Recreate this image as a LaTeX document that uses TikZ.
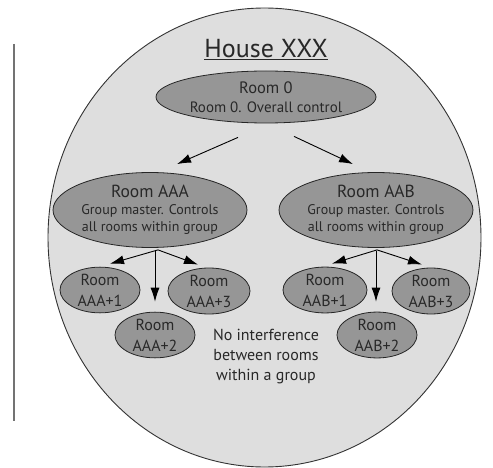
\documentclass[tikz,border=0pt]{standalone}
\usepackage{fontspec}
\setmainfont{PT Sans}
\usepackage{tikz}
\usetikzlibrary{positioning,shapes,arrows.meta,calc}
\definecolor{housegray}{RGB}{222,222,222}
\definecolor{roomgray}{RGB}{150,150,150}
\definecolor{textgray}{RGB}{40,40,40}

\begin{document}
\begin{tikzpicture}[x=1pt,y=-1pt,
    room/.style={ellipse,draw=black!85,line width=0.8pt,fill=roomgray,inner sep=0pt,align=center,text=textgray},
    bigroom/.style={room,minimum height=75pt,font=\fontsize{14}{16.5}\selectfont},
    smallroom/.style={room,minimum width=80pt,minimum height=40pt,font=\fontsize{16}{21}\selectfont},
    link/.style={-{Latex[length=14pt,width=9pt]},line width=0.9pt}]
  \useasboundingbox (0,0) rectangle (493,468);
  % side rule and house outline
  \draw[line width=2pt,black!55] (14,44) -- (14,421);
  \draw[fill=housegray,draw=black!80,line width=0.9pt] (264.5,237.5) ellipse [x radius=216.5pt, y radius=229.5pt];
  \node[text=textgray,font=\fontsize{26}{30}\selectfont] (title) at (266,50) {\underline{House XXX}};
  % top controller
  \node[room,minimum width=220pt,minimum height=52pt,font=\fontsize{15}{19}\selectfont] (r0) at (266,97)
      {{\fontsize{16.5}{19}\selectfont Room 0}\\Room 0. Overall control};
  % group masters
  \node[bigroom,minimum width=154pt] (aaa) at (150,210) {{\fontsize{17.5}{19}\selectfont Room AAA}\\[0.5pt]
      Group master. Controls\\all rooms within group};
  \node[bigroom,minimum width=163pt] (aab) at (376,210) {{\fontsize{17.5}{19}\selectfont Room AAB}\\[0.5pt]
      Group master. Controls\\all rooms within group};
  % group members
  \node[smallroom] (a1) at (100,290) {Room\\AAA+1};
  \node[smallroom,minimum width=82pt,minimum height=42pt] (a3) at (209,291) {Room\\AAA+3};
  \node[smallroom] (a2) at (155,335) {Room\\AAA+2};
  \node[smallroom,minimum width=84pt] (b1) at (325,290) {Room\\AAB+1};
  \node[smallroom,minimum width=78pt,minimum height=42pt] (b3) at (431,291) {Room\\AAB+3};
  \node[smallroom] (b2) at (377,335) {Room\\AAB+2};
  \node[text=textgray,align=center,font=\fontsize{16}{20}\selectfont] (note) at (266,357) {No interference\\between rooms\\within a group};
  % arrows
  \draw[link] ([xshift=-28pt,yshift=-14pt]r0.south) -- ([xshift=27pt,yshift=8pt]aaa.north);
  \draw[link] ([xshift=28pt,yshift=-13pt]r0.south) -- ([xshift=-23pt,yshift=8pt]aab.north);
  \draw[link] ([xshift=8pt,yshift=-2pt]aaa.south) -- ([xshift=10pt,yshift=3pt]a1.north);
  \draw[link] ([xshift=8pt,yshift=-2pt]aaa.south) -- ([xshift=-11pt,yshift=3pt]a3.north);
  \draw[link] ([xshift=5pt,yshift=-3pt]aaa.south) -- ([yshift=10pt]a2.north);
  \draw[link] ([xshift=1pt,yshift=-2pt]aab.south) -- ([xshift=7pt,yshift=3pt]b1.north);
  \draw[link] ([xshift=1pt,yshift=-2pt]aab.south) -- ([xshift=-9pt,yshift=3pt]b3.north);
  \draw[link] ([yshift=-3pt]aab.south) -- ([xshift=-1pt,yshift=10pt]b2.north);
\end{tikzpicture}
\end{document}
